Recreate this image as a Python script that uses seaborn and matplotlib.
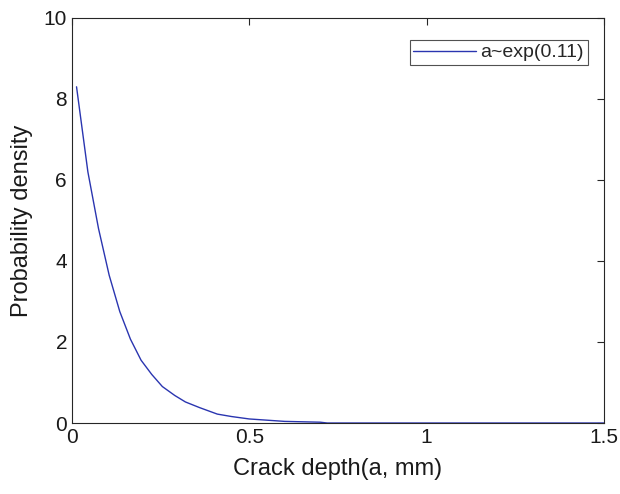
import matplotlib
matplotlib.use("Agg")
import matplotlib.pyplot as plt
import seaborn as sns
import pandas as pd

crack_depth = [0.013, 0.045, 0.075, 0.105, 0.135, 0.165, 0.195, 0.225, 0.255, 0.29,
               0.32, 0.36, 0.41, 0.45, 0.5, 0.55, 0.6, 0.65, 0.7, 0.72, 1.5]
density = [8.3, 6.2, 4.8, 3.65, 2.75, 2.07, 1.55, 1.2, 0.9, 0.68,
           0.52, 0.38, 0.22, 0.16, 0.10, 0.07, 0.04, 0.03, 0.02, 0.0, 0.0]
series_label = "a~exp(0.11)"
x_ticks = [0, 0.5, 1, 1.5]
y_ticks = [0, 2, 4, 6, 8, 10]

sns.set_theme(style="white")
plt.rcParams['font.family'] = ['Liberation Sans', 'DejaVu Sans']

df = pd.DataFrame({"x": crack_depth, "y": density, "s": series_label})

fig = plt.figure(figsize=(6.2, 4.94), dpi=100)
ax = fig.add_axes([0.116, 0.1437, 0.858, 0.82])
sns.lineplot(data=df, x="x", y="y", hue="s", palette=["#2a35b0"], linewidth=1.0,
             ax=ax, sort=False, estimator=None)
ax.set_xlim(0, 1.5)
ax.set_ylim(0, 10)
ax.set_xticks(x_ticks)
ax.set_xticklabels(["0", "0.5", "1", "1.5"])
ax.set_yticks(y_ticks)
ax.tick_params(direction="in", length=5, width=0.8, colors="#262626", labelsize=15,
               top=True, right=True, labelcolor="#1a1a1a")
for sp in ax.spines.values():
    sp.set_color("#262626")
    sp.set_linewidth(0.8)
ax.set_xlabel("Crack depth(a, mm)", fontsize=17, color="#1a1a1a", labelpad=8)
ax.set_ylabel("Probability density", fontsize=17, color="#1a1a1a", labelpad=8)
leg = ax.legend(loc="upper right", fontsize=14, frameon=True, fancybox=False,
                edgecolor="#262626", handlelength=3.2, handletextpad=0.25,
                borderpad=0.2, borderaxespad=0.0,
                bbox_to_anchor=(0.970, 0.946))
leg.get_frame().set_linewidth(0.8)
fig.savefig("out.png", dpi=100)
